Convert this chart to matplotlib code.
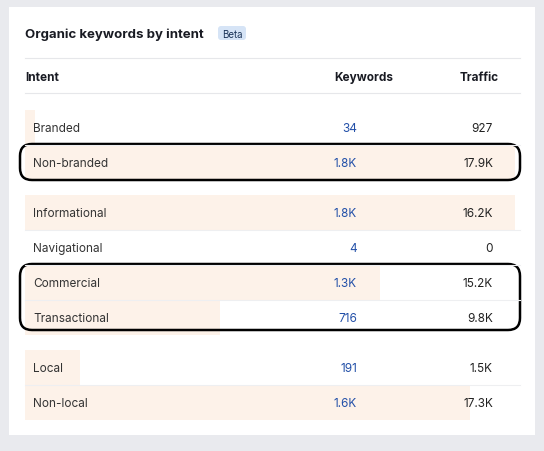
import matplotlib.pyplot as plt
from matplotlib.patches import FancyBboxPatch, Rectangle

intents = ["Branded", "Non-branded", "Informational", "Navigational",
           "Commercial", "Transactional", "Local", "Non-local"]
keywords = ["34", "1.8K", "1.8K", "4", "1.3K", "716", "191", "1.6K"]
traffic = ["927", "17.9K", "16.2K", "0", "15.2K", "9.8K", "1.5K", "17.3K"]
share = [0.02, 0.98, 0.98, 0.0, 0.71, 0.39, 0.11, 0.89]
row_y = [128, 163, 213, 248, 283, 318, 368, 403]

fig = plt.figure(figsize=(5.44, 4.52), dpi=100)
fig.patch.set_facecolor("#e9eaee")
ax = fig.add_axes([0, 0, 1, 1])
ax.set_xlim(0, 544)
ax.set_ylim(452, 0)
ax.axis("off")

# white card
ax.add_patch(Rectangle((9, 8), 526, 428, facecolor="white", edgecolor="none"))

ax.text(25, 35, "Organic keywords by intent", fontsize=9.5, fontweight="bold",
        color="#191b23", va="center", family="Inter")
ax.add_patch(FancyBboxPatch((218, 27), 28, 14, boxstyle="round,pad=0,rounding_size=3",
                            facecolor="#d6e4f6", edgecolor="none"))
ax.text(232, 35, "Beta", fontsize=7, color="#1d3559", ha="center", va="center", family="Inter")

ax.plot([25, 520], [59, 59], color="#e6e7ea", lw=0.8)
ax.plot([25, 520], [94, 94], color="#e6e7ea", lw=0.8)
ax.text(25, 78, "Intent", fontsize=8.5, fontweight="bold", color="#191b23", va="center", family="Inter")
ax.text(393, 78, "Keywords", fontsize=8.5, fontweight="bold", color="#191b23", va="center", ha="right", family="Inter")
ax.text(499, 78, "Traffic", fontsize=8.5, fontweight="bold", color="#191b23", va="center", ha="right", family="Inter")

ax.barh(row_y, [s * 500 for s in share], left=25, height=35, color="#fdf2e9")

for y, name, kw, tr in zip(row_y, intents, keywords, traffic):
    ax.text(33, y + 1.5, name, fontsize=8.5, color="#333", va="center", family="Inter")
    ax.text(357, y + 1.5, kw, fontsize=8.5, color="#2350a8", va="center", ha="right", family="Inter")
    ax.text(493, y + 1.5, tr, fontsize=8.5, color="#222", va="center", ha="right", family="Inter")

for y in [146, 231, 266, 301, 386]:
    ax.plot([25, 520], [y, y], color="#eeeff1", lw=0.8)

for (y0, h) in [(145, 36), (265, 66)]:
    ax.add_patch(FancyBboxPatch((20, y0), 500, h, boxstyle="round,pad=0,rounding_size=12",
                                facecolor="none", edgecolor="black", lw=1.8))

fig.savefig("out.png", dpi=100, facecolor=fig.get_facecolor())
